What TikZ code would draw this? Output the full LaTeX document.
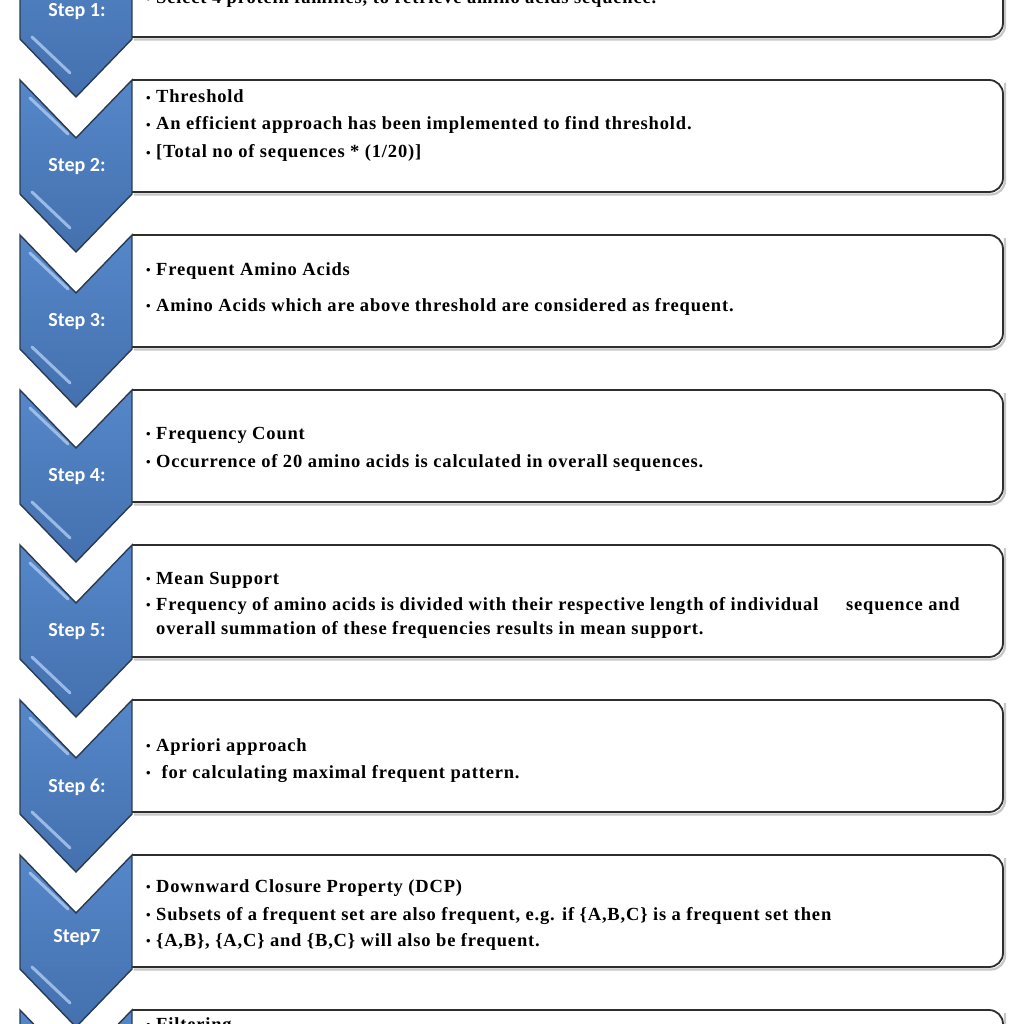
\documentclass[tikz,border=0pt]{standalone}
\usepackage{fontspec}
\setmainfont{Liberation Serif}
\newfontfamily\stepfont{Carlito}
\definecolor{chevtop}{HTML}{5587C9}
\definecolor{chevbot}{HTML}{4470AE}
\definecolor{chevedge}{HTML}{2A3B4F}
\definecolor{hilite}{HTML}{A9C7EE}
\definecolor{boxedge}{HTML}{2E2E2E}
\tikzset{
  chev/.style={top color=chevtop,bottom color=chevbot,draw=chevedge,line width=1.4pt,line join=miter},
  hl/.style={draw=hilite,line width=3pt,line cap=round,opacity=0.85},
  stepbox/.style={draw=boxedge,line width=1.8pt,rounded corners=14pt},
  boxshadow/.style={draw=black!22,line width=2.2pt,rounded corners=14pt},
  steplabel/.style={font=\stepfont\bfseries\fontsize{20}{23}\selectfont,text=white,inner sep=0pt},
  txt/.style={font=\bfseries\fontsize{18.5}{21}\selectfont\addfontfeature{LetterSpace=4.5},inner sep=0pt,anchor=base west},
}
\newcommand\bl{\makebox[10pt][l]{\raisebox{0.5pt}{\fontsize{13}{13}\selectfont •}}}
\newcommand\stagebox[1]{%
  \fill[white] (132,#1) rectangle (1003,#1+112);
  \draw[boxshadow] (134,#1+114.5) -- (1005,#1+114.5) -- (1005,#1+3);
  \draw[stepbox] (132,#1) -- (1003,#1) -- (1003,#1+112) -- (132,#1+112);
  \shadedraw[chev] (20,#1) -- (76,#1+58) -- (132,#1) -- (132,#1+114) -- (76,#1+172) -- (20,#1+114) -- cycle;
  \draw[hl] (30,#1+18) -- (68,#1+54);
  \draw[hl] (32,#1+112) -- (70,#1+148);
}
\begin{document}
\begin{tikzpicture}[x=1pt,y=-1pt]
\useasboundingbox (0,0) rectangle (1024,1024);
\clip (0,0) rectangle (1024,1024);
\fill[white] (0,0) rectangle (1024,1024);
\foreach \t in {-75,80,235,390,545,700,855,1010}{\stagebox{\t}}
% step labels
\node[steplabel] (l1) at (77,12) {Step 1:};
\node[steplabel] (l2) at (77,167) {Step 2:};
\node[steplabel] (l3) at (77,322) {Step 3:};
\node[steplabel] (l4) at (77,477) {Step 4:};
\node[steplabel] (l5) at (77,632) {Step 5:};
\node[steplabel] (l6) at (77,787) {Step 6:};
\node[steplabel] (l7) at (77,938) {Step7};
% step 1
\node[txt] (t1a) at (146,4) {\bl Select 4 protein families, to retrieve amino acids sequence.};
% step 2
\node[txt] (t2a) at (146,103) {\bl Threshold};
\node[txt] (t2b) at (146,130) {\bl An efficient approach has been implemented to find threshold.};
\node[txt] (t2c) at (146,158) {\bl [Total no of sequences * (1/20)]};
% step 3
\node[txt] (t3a) at (146,275) {\bl Frequent Amino Acids};
\node[txt] (t3b) at (146,311) {\bl Amino Acids which are above threshold are considered as frequent.};
% step 4
\node[txt] (t4a) at (146,439) {\bl Frequency Count};
\node[txt] (t4b) at (146,467) {\bl Occurrence of 20 amino acids is calculated in overall sequences.};
% step 5
\node[txt] (t5a) at (146,584) {\bl Mean Support};
\node[txt] (t5b) at (146,610) {\bl Frequency of amino acids is divided with their respective length of individual\hspace{1.2em} sequence and};
\node[txt] (t5c) at (146,634) {\hspace*{10pt}overall summation of these frequencies results in mean support.};
% step 6
\node[txt] (t6a) at (146,751) {\bl Apriori approach};
\node[txt] (t6b) at (146,778) {\bl\ for calculating maximal frequent pattern.};
% step 7
\node[txt] (t7a) at (146,892) {\bl Downward Closure Property (DCP)};
\node[txt] (t7b) at (146,920) {\bl Subsets of a frequent set are also frequent, e.g. if \{A,B,C\} is a frequent set then};
\node[txt] (t7c) at (146,946) {\bl \{A,B\}, \{A,C\} and \{B,C\} will also be frequent.};
% step 8
\node[txt] (t8a) at (146,1030) {\bl Filtering};
\end{tikzpicture}
\end{document}
